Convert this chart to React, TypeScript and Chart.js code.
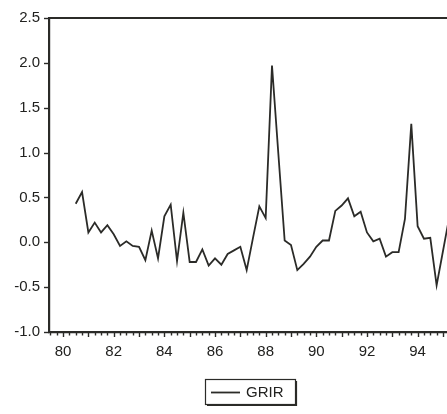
import React, { useEffect, useRef } from "react";
import { Chart, registerables } from "chart.js";

Chart.register(...registerables);

// Quarterly observations of GRIR
const periods: string[] = [
  "1980Q3", "1980Q4",
  "1981Q1", "1981Q2", "1981Q3", "1981Q4",
  "1982Q1", "1982Q2", "1982Q3", "1982Q4",
  "1983Q1", "1983Q2", "1983Q3", "1983Q4",
  "1984Q1", "1984Q2", "1984Q3", "1984Q4",
  "1985Q1", "1985Q2", "1985Q3", "1985Q4",
  "1986Q1", "1986Q2", "1986Q3", "1986Q4",
  "1987Q1", "1987Q2", "1987Q3", "1987Q4",
  "1988Q1", "1988Q2", "1988Q3", "1988Q4",
  "1989Q1", "1989Q2", "1989Q3", "1989Q4",
  "1990Q1", "1990Q2", "1990Q3", "1990Q4",
  "1991Q1", "1991Q2", "1991Q3", "1991Q4",
  "1992Q1", "1992Q2", "1992Q3", "1992Q4",
  "1993Q1", "1993Q2", "1993Q3", "1993Q4",
  "1994Q1", "1994Q2", "1994Q3", "1994Q4",
  "1995Q1", "1995Q2",
];

const grir: number[] = [
  0.43, 0.56,
  0.11, 0.22, 0.11, 0.19,
  0.09, -0.04, 0.01, -0.04,
  -0.05, -0.2, 0.13, -0.18,
  0.29, 0.42, -0.21, 0.33,
  -0.22, -0.22, -0.08, -0.26,
  -0.18, -0.25, -0.13, -0.09,
  -0.05, -0.31, 0.05, 0.4,
  0.27, 1.97, 0.99, 0.02,
  -0.03, -0.31, -0.24, -0.16,
  -0.05, 0.02, 0.02, 0.35,
  0.41, 0.49, 0.29, 0.34,
  0.11, 0.01, 0.04, -0.16,
  -0.11, -0.11, 0.26, 1.32,
  0.18, 0.04, 0.05, -0.48,
  -0.1, 0.28,
];

const yearLabels: number[] = [1980, 1982, 1984, 1986, 1988, 1990, 1992, 1994];
const yTicks: number[] = [-1.0, -0.5, 0.0, 0.5, 1.0, 1.5, 2.0, 2.5];

const INK = "#2b2b28";
const TEXT = "#222220";
const FONT = "'Liberation Sans', Arial, sans-serif";

const toYear = (p: string) => {
  const [y, q] = p.split("Q");
  return Number(y) + (Number(q) - 1) / 4;
};

// Frame line on top, outward tick marks on both axes, and the boxed legend
const decorations = {
  id: "decorations",
  afterDraw(chart: any) {
    const { ctx, chartArea, scales } = chart;
    const x = scales.x;
    const y = scales.y;
    ctx.save();
    ctx.strokeStyle = INK;

    // top frame line
    ctx.lineWidth = 2.2;
    ctx.beginPath();
    ctx.moveTo(chartArea.left - 1, chartArea.top);
    ctx.lineTo(chartArea.right, chartArea.top);
    ctx.stroke();

    // y tick marks
    ctx.lineWidth = 1.4;
    for (const v of yTicks) {
      const py = Math.round(y.getPixelForValue(v)) + 0.5;
      ctx.beginPath();
      ctx.moveTo(chartArea.left - 5, py);
      ctx.lineTo(chartArea.left, py);
      ctx.stroke();
    }

    // quarterly x tick marks, longer at each year
    const start = Math.ceil(x.min * 4) / 4;
    for (let t = start; t <= x.max; t += 0.25) {
      const px = Math.round(x.getPixelForValue(t)) + 0.5;
      const isYear = Math.abs(t - Math.round(t)) < 1e-6;
      ctx.beginPath();
      ctx.moveTo(px, chartArea.bottom);
      ctx.lineTo(px, chartArea.bottom + (isYear ? 5 : 3.5));
      ctx.stroke();
    }

    // legend box
    const bx = 205.5, by = 379.5, bw = 90, bh = 25;
    ctx.lineWidth = 1.2;
    ctx.strokeRect(bx, by, bw, bh);
    ctx.beginPath();
    ctx.moveTo(bx + 1.5, by + bh + 1);
    ctx.lineTo(bx + bw + 1, by + bh + 1);
    ctx.lineTo(bx + bw + 1, by + 1.5);
    ctx.stroke();
    ctx.lineWidth = 1.8;
    ctx.beginPath();
    ctx.moveTo(211, 392.5);
    ctx.lineTo(240, 392.5);
    ctx.stroke();
    ctx.fillStyle = TEXT;
    ctx.font = `15px ${FONT}`;
    ctx.textBaseline = "middle";
    ctx.textAlign = "left";
    ctx.fillText(chart.data.datasets[0].label, 246, 393);
    ctx.restore();
  },
};

export default function App() {
  const ref = useRef<HTMLCanvasElement | null>(null);

  useEffect(() => {
    if (!ref.current) return;
    const chart = new Chart(ref.current, {
      type: "line",
      data: {
        datasets: [
          {
            label: "GRIR",
            data: periods.map((p, i) => ({ x: toYear(p), y: grir[i] })),
            borderColor: INK,
            borderWidth: 1.8,
            pointRadius: 0,
            tension: 0,
            fill: false,
          },
        ],
      },
      options: {
        responsive: false,
        animation: false,
        events: [],
        layout: { padding: { left: 0, top: 13, right: 0, bottom: 0 } },
        plugins: {
          legend: { display: false },
          tooltip: { enabled: false },
        },
        scales: {
          x: {
            type: "linear",
            min: 1979.445,
            max: 1995.16,
            afterBuildTicks: (scale: any) => {
              scale.ticks = yearLabels.map((v) => ({ value: v }));
            },
            afterFit: (scale: any) => {
              scale.height = 82;
            },
            grid: { display: false, drawTicks: false },
            border: { display: true, color: INK, width: 2.2 },
            ticks: {
              padding: 11,
              color: TEXT,
              font: { family: FONT, size: 15 },
              maxRotation: 0,
              autoSkip: false,
              callback: (v: any) => String(Number(v) % 100).padStart(2, "0"),
            },
          },
          y: {
            min: -1,
            max: 2.5,
            afterBuildTicks: (scale: any) => {
              scale.ticks = yTicks.map((v) => ({ value: v }));
            },
            afterFit: (scale: any) => {
              scale.width = 49;
            },
            grid: { display: false, drawTicks: false },
            border: { display: true, color: INK, width: 2.2 },
            ticks: {
              padding: 9,
              color: TEXT,
              font: { family: FONT, size: 15 },
              callback: (v: any) => Number(v).toFixed(1),
            },
          },
        },
      },
      plugins: [decorations],
    });
    return () => chart.destroy();
  }, []);

  return (
    <div style={{ position: "absolute", left: 0, top: 0, width: 447, height: 414, background: "#fff" }}>
      <canvas ref={ref} width={447} height={414} />
    </div>
  );
}
